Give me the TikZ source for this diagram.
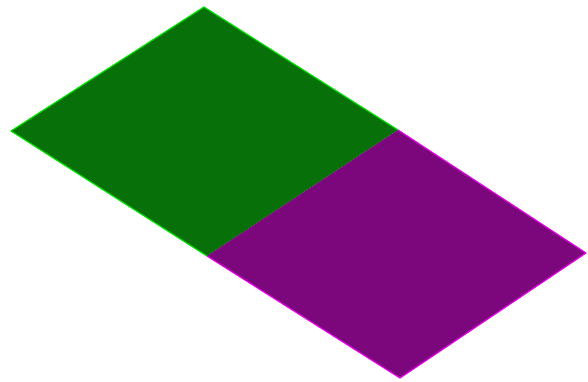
\documentclass[tikz,border=0pt]{standalone}
\usepackage{tikz}
\definecolor{gfill}{HTML}{087008}
\definecolor{gedge}{HTML}{00E000}
\definecolor{pfill}{HTML}{7C067C}
\definecolor{pedge}{HTML}{E800E8}
\tikzset{
  greenface/.style={fill=gfill},
  purpleface/.style={fill=pfill},
  greenrim/.style={draw=gedge, line width=1.2pt, line join=round},
  purplerim/.style={draw=pedge, line width=1.2pt, line join=round}
}
\begin{document}
\begin{tikzpicture}[x=1pt,y=-1pt]
\useasboundingbox (0,0) rectangle (588,382);
\coordinate (gt) at (204,7);
\coordinate (gl) at (11,131);
\coordinate (m1) at (398,130);
\coordinate (m2) at (207,256);
\coordinate (pr) at (586,253);
\coordinate (pb) at (400,378);
\fill[greenface] (gt) -- (m1) -- (m2) -- (gl) -- cycle;
\fill[purpleface] (m1) -- (pr) -- (pb) -- (m2) -- cycle;
\draw[greenrim] (m1) -- (gt) -- (gl) -- (m2);
\draw[purplerim] (m1) -- (pr) -- (pb) -- (m2);
\end{tikzpicture}
\end{document}
